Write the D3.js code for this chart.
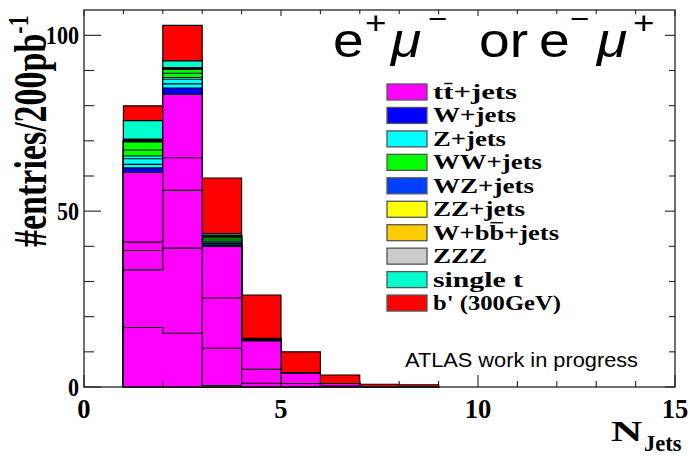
<!DOCTYPE html>
<html><head><meta charset="utf-8">
<script src="https://cdn.jsdelivr.net/npm/d3@7"></script>
<style>body{margin:0;background:#fff}</style>
</head><body>
<svg id="c" width="690" height="457"></svg>
<script>
// ---- data (bins N_Jets = 1..8, width 1) ----
const binLow = [1, 2, 3, 4, 5, 6, 7, 8];
const ttbar_1 = [16.9, 15.3, 0.4, 0, 0, 0, 0, 0];
const ttbar_2 = [16.4, 24.2, 10.6, 1.05, 0, 0, 0, 0];
const ttbar_3 = [5.5, 16.4, 14.3, 3.95, 1.0, 0.3, 0, 0];
const ttbar_4 = [2.4, 9.3, 14.7, 8.1, 2.9, 0.7, 0.1, 0.05];
const ttbar_5 = [19.8, 18.0, 0, 0, 0, 0, 0, 0];
const wjets   = [1.3, 1.8, 0.4, 0.1, 0.05, 0, 0, 0];
const zjets_1 = [1.0, 1.2, 0.4, 0.1, 0.05, 0, 0, 0];
const zjets_2 = [1.6, 1.3, 0.4, 0.1, 0, 0, 0, 0];
const zjets_3 = [0.8, 0.5, 0.3, 0.05, 0, 0, 0, 0];
const wwjets_1 = [1.7, 1.2, 0.6, 0.1, 0.05, 0, 0, 0];
const wwjets_2 = [2.3, 1.1, 0.5, 0.1, 0, 0, 0, 0];
const wzjets  = [0.3, 0.2, 0.2, 0.05, 0, 0, 0, 0];
const zzjets  = [0.1, 0.1, 0.1, 0.02, 0, 0, 0, 0];
const wbbjets = [0.3, 0.2, 0.2, 0.05, 0, 0, 0, 0];
const zzz     = [0.05, 0.02, 0.02, 0, 0, 0, 0, 0];
const singlet = [5.3, 1.9, 0.5, 0.1, 0.05, 0, 0, 0];
const bprime  = [4.2, 10.1, 15.8, 12.3, 5.9, 2.4, 0.7, 0.6];

const legendLabels = ["tt+jets", "W+jets", "Z+jets", "WW+jets", "WZ+jets", "ZZ+jets", "W+bb+jets", "ZZZ", "single t", "b' (300GeV)"];
// index of the character carrying an overbar (-1 = none)
const legendBar = [1, -1, -1, -1, -1, -1, 3, -1, -1, -1];
const legendColors = ["#ff00ff", "#0000ff", "#00ffff", "#00ff00", "#0040ff", "#ffff00", "#ffcc00", "#cccccc", "#00ffcc", "#ff0000"];
const xMajorTicks = [0, 5, 10, 15];
const yMajorTicks = [0, 50, 100];

// stack layers bottom -> top
const layers = [
  [ttbar_1, 0], [ttbar_2, 0], [ttbar_3, 0], [ttbar_4, 0], [ttbar_5, 0],
  [wjets, 1], [zjets_1, 2], [zjets_2, 2], [zjets_3, 2],
  [wwjets_1, 3], [wwjets_2, 3], [wzjets, 4], [zzjets, 5], [wbbjets, 6],
  [zzz, 7], [singlet, 8], [bprime, 9]
];

const svg = d3.select("#c");
const x = d3.scaleLinear().domain([0, 15]).range([84, 675]);
const y = d3.scaleLinear().domain([0, 107.2]).range([387, 10]);

// cumulative
let cum = binLow.map(() => 0);
const cums = layers.map(([vals, ci]) => {
  cum = cum.map((c, i) => c + vals[i]);
  return { c: cum.slice(), color: legendColors[ci] };
});

const area = d3.area()
  .x(d => x(d.e)).y0(y(0)).y1(d => y(d.v))
  .curve(d3.curveStepAfter);

const g = svg.append("g");
for (let k = cums.length - 1; k >= 0; k--) {
  const c = cums[k].c;
  const pts = binLow.map((b, i) => ({ e: b, v: c[i] }));
  pts.push({ e: binLow[binLow.length - 1] + 1, v: c[c.length - 1] });
  g.append("path").attr("d", area(pts))
    .attr("fill", cums[k].color)
    .attr("stroke", "#000").attr("stroke-width", 1.1)
    .attr("stroke-linejoin", "miter");
}

// frame
svg.append("rect").attr("x", x(0)).attr("y", y(107.2))
  .attr("width", x(15) - x(0)).attr("height", y(0) - y(107.2))
  .attr("fill", "none").attr("stroke", "#222").attr("stroke-width", 1.3);

// ticks
const tk = svg.append("g").attr("stroke", "#222").attr("stroke-width", 1.1);
d3.range(0, 16).forEach(v => {
  const maj = xMajorTicks.includes(v);
  tk.append("line").attr("x1", x(v)).attr("x2", x(v)).attr("y1", y(0)).attr("y2", y(0) - (maj ? 12 : 6));
  tk.append("line").attr("x1", x(v)).attr("x2", x(v)).attr("y1", y(107.2)).attr("y2", y(107.2) + (maj ? 6 : 4));
});
d3.range(0, 101, 10).forEach(v => {
  const maj = yMajorTicks.includes(v);
  tk.append("line").attr("x1", x(0)).attr("x2", x(0) + (maj ? 17 : 10)).attr("y1", y(v)).attr("y2", y(v));
  tk.append("line").attr("x1", x(15)).attr("x2", x(15) - (maj ? 10 : 6)).attr("y1", y(v)).attr("y2", y(v));
});

function txt(s, px, py, size, sx, opts = {}) {
  const t = svg.append("text")
    .attr("transform", `translate(${px},${py}) scale(${sx},1)`)
    .attr("font-family", opts.family || "Liberation Serif")
    .attr("font-weight", opts.weight || "bold")
    .attr("font-style", opts.style || "normal")
    .attr("font-size", size)
    .attr("text-anchor", opts.anchor || "start")
    .attr("fill", "#000")
    .text(s);
  return t;
}

// tick labels
yMajorTicks.forEach(v => txt(String(v), 79, y(v) + 9, 26, 0.85, { anchor: "end" }));
xMajorTicks.forEach(v => txt(String(v), x(v), 418, 28, 0.95, { anchor: "middle" }));

// axis titles
const yl = svg.append("text")
  .attr("transform", "translate(46,247) rotate(-90) scale(1,1.35)")
  .attr("font-family", "Liberation Serif").attr("font-weight", "bold")
  .attr("font-size", 34);
yl.append("tspan").text("#entries/200pb");
yl.append("tspan").attr("font-size", 22).attr("dy", -13).text("-1");

txt("N", 611, 441, 30, 1.45);
txt("Jets", 644, 451, 23, 0.98);

// title e+mu- or e-mu+
const sf = { family: "Liberation Sans", weight: "normal" };
const sfi = { family: "Liberation Sans", weight: "normal", style: "italic" };
txt("e", 333, 57, 48, 1.15, sf);
txt("+", 365, 34, 32, 1.15, sf);
txt("\u03bc", 391, 57, 48, 1.15, sfi);
txt("\u2212", 428, 29, 30, 1.1, sf);
txt("or", 479, 57, 48, 1.15, sf);
txt("e", 539, 57, 48, 1.15, sf);
txt("\u2212", 570, 29, 30, 1.1, sf);
txt("\u03bc", 597, 57, 48, 1.15, sfi);
txt("+", 633, 34, 32, 1.15, sf);

// ATLAS label
svg.append("text").attr("x", 405).attr("y", 367)
  .attr("font-family", "Liberation Sans").attr("font-size", 21)
  .attr("textLength", 233).attr("lengthAdjust", "spacingAndGlyphs")
  .text("ATLAS work in progress");

// legend
const legY0 = 92, legDY = 23.45;
const legLens = [84, 83, 73, 109, 101, 92, 126, 54, 90, 128];
legendLabels.forEach((lab, i) => {
  const cy = legY0 + i * legDY;
  const base = cy + 7;
  svg.append("rect").attr("x", 387).attr("y", cy - 8).attr("width", 40).attr("height", 16)
    .attr("fill", legendColors[i]).attr("stroke", "#555").attr("stroke-width", 1.3);
  const t = svg.append("text").attr("x", 433).attr("y", base)
    .attr("font-family", "Liberation Serif").attr("font-weight", "bold").attr("font-size", 21)
    .attr("textLength", legLens[i]).attr("lengthAdjust", "spacingAndGlyphs")
    .text(lab);
  const bi = legendBar[i];
  if (bi >= 0) {
    let bx0, bx1;
    try {
      const e = t.node().getExtentOfChar(bi);
      bx0 = e.x + 1; bx1 = e.x + e.width - 1;
    } catch (err) { bx0 = 443; bx1 = 452; }
    const by = base - (lab[bi] === "t" ? 15.5 : 17);
    svg.append("line").attr("x1", bx0).attr("x2", bx1).attr("y1", by).attr("y2", by)
      .attr("stroke", "#000").attr("stroke-width", 1.4);
  }
});
</script>
</body></html>
